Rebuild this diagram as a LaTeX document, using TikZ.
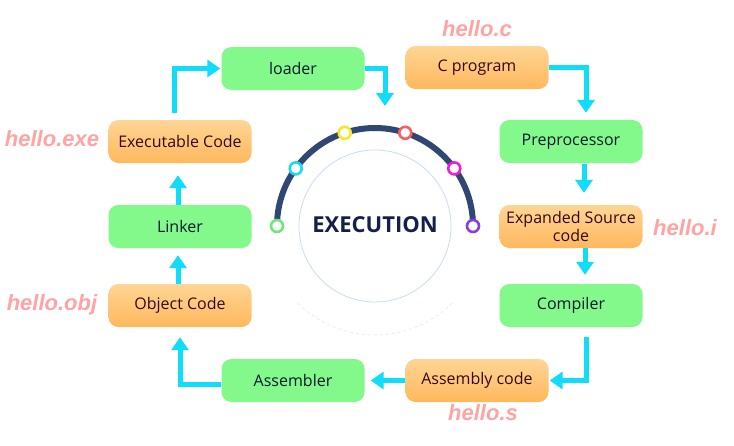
\documentclass[tikz,border=0pt]{standalone}
\usepackage{fontspec}
\setmainfont{Open Sans}
\newfontfamily\labfont{Liberation Sans}
\usetikzlibrary{arrows.meta,calc}
\definecolor{boxgreen}{HTML}{82F98A}
\definecolor{orangetop}{HTML}{FFD595}
\definecolor{orangebot}{HTML}{FFB85C}
\definecolor{navytext}{HTML}{0B1830}
\definecolor{maroontext}{HTML}{330A1C}
\definecolor{labpink}{HTML}{FFA3A3}
\definecolor{arrcyan}{HTML}{10DDFA}
\definecolor{arcnavy}{HTML}{2F4772}
\definecolor{execnavy}{HTML}{15204A}
\definecolor{faintblue}{HTML}{C6D8F5}
\definecolor{rgreen}{HTML}{6EE67A}
\definecolor{rcyan}{HTML}{1ED8F5}
\definecolor{ryellow}{HTML}{F5E82A}
\definecolor{rred}{HTML}{F85E5E}
\definecolor{rmagenta}{HTML}{F01ED8}
\definecolor{rpurple}{HTML}{8A3CE0}
\begin{document}
\begin{tikzpicture}[x=1pt,y=-1pt,
  basebox/.style={rounded corners=10pt, minimum width=143pt, minimum height=43pt,
    inner sep=0pt, align=center, font=\fontsize{16}{18}\selectfont},
  gbox/.style={basebox, fill=boxgreen, text=navytext},
  obox/.style={basebox, top color=orangetop, bottom color=orangebot, text=maroontext},
  lab/.style={font=\labfont\bfseries\itshape\fontsize{22}{24}\selectfont, text=labpink},
  arr/.style={draw=arrcyan, line width=5pt, -{Triangle[length=13pt,width=17pt]}},
  ring/.style={circle, draw=#1, line width=2.6pt, fill=white, minimum size=12pt, inner sep=0pt}]
\fill[white] (0,0) rectangle (734,445);
\useasboundingbox (0,0) rectangle (734,445);

% central execution figure
\coordinate (c) at (375,226);
\draw[faintblue, line width=0.7pt] (c) circle[radius=76];
\draw[faintblue!60, line width=0.6pt, dashed] ($(c)+(45:109)$) arc[start angle=45, end angle=135, radius=109];
\draw[arcnavy, line width=6pt] ($(c)+(180:98)$) arc[start angle=180, end angle=360, radius=98];
\foreach \a/\col [count=\i] in {180/rgreen, 216/rcyan, 252/ryellow, 288/rred, 324/rmagenta, 360/rpurple}
  \node[ring=\col] (r\i) at ($(c)+(\a:98)$) {};
\node[font=\bfseries\fontsize{22}{24}\selectfont, text=execnavy] (exec) at (375,225) {EXECUTION};

% boxes
\node[gbox] (loader) at (293,68.5) {loader};
\node[obox] (cprog) at (477,67.5) {C program};
\node[gbox] (pre) at (571,141.5) {Preprocessor};
\node[obox] (exp) at (571,226.5) {Expanded Source\\code};
\node[gbox] (comp) at (571,305.5) {Compiler};
\node[obox] (asmc) at (477,380.5) {Assembly code};
\node[gbox] (asmr) at (293,380.5) {Assembler};
\node[obox] (obj) at (180,305.5) {Object Code};
\node[gbox] (link) at (180,226.5) {Linker};
\node[obox] (exe) at (180,141.5) {Executable Code};

% labels
\node[lab] (lc) at (477,29) {hello.c};
\node[lab] (lexe) at (52,139) {hello.exe};
\node[lab] (li) at (685,228) {hello.i};
\node[lab] (lobj) at (52,305) {hello.obj};
\node[lab] (ls) at (483,413) {hello.s};

% connectors
\coordinate (arcin) at (385,106);
\draw[arr, shorten <=7pt, shorten >=1pt] ([xshift=-6pt]exe.north) |- (loader.west);
\draw[arr] (loader.east) -| (arcin);
\draw[arr, shorten >=7pt] (cprog.east) -| ([xshift=15pt]pre.north);
\draw[arr, shorten <=1pt, shorten >=12pt] ([xshift=13pt]pre.south) -- ([xshift=13pt]exp.north);
\draw[arr, shorten >=9pt] ([xshift=14pt]exp.south) -- ([xshift=14pt]comp.north);
\draw[arr, shorten <=10pt, shorten >=1pt] ([xshift=15pt]comp.south) |- (asmc.east);
\draw[arr, shorten >=6pt] (asmc.west) -- (asmr.east);
\draw[arr, shorten >=10pt] ([yshift=-4pt]asmr.west) -| (obj.south);
\draw[arr, shorten >=7pt] ([xshift=-2pt]obj.north) -- ([xshift=-2pt]link.south);
\draw[arr, shorten >=12pt] ([xshift=-2pt]link.north) -- ([xshift=-2pt]exe.south);
\end{tikzpicture}
\end{document}
